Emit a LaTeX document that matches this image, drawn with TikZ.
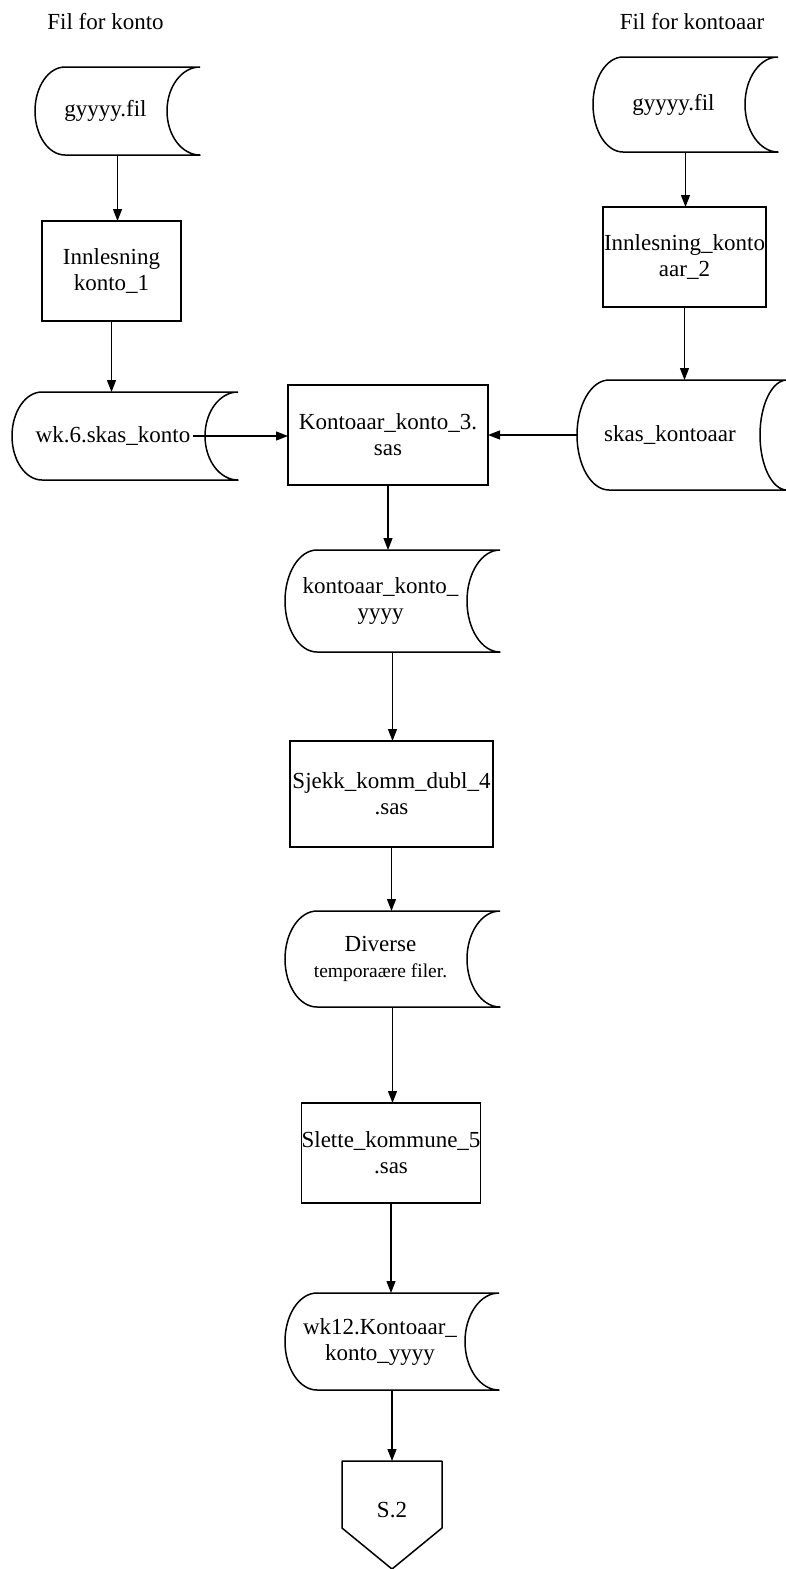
\documentclass[tikz,border=0pt]{standalone}
\usepackage{fontspec}
\setmainfont{Liberation Serif}
\usetikzlibrary{arrows.meta}
\tikzset{
  shapeline/.style={line width=1.5pt, line join=round},
  arr/.style={line width=1.2pt, -{Triangle[length=12pt,width=9pt]}},
  procbox/.style={draw, line width=1.5pt, inner sep=0pt, outer sep=0pt, align=center, font=\fontsize{23}{26}\selectfont},
  holder/.style={inner sep=0pt, outer sep=0pt},
  txt/.style={inner sep=2pt, align=center, font=\fontsize{23}{26}\selectfont},
  title/.style={font=\fontsize{23}{26}\selectfont}
}
% #1 name, #2 L, #3 T, #4 R, #5 B, #6 d, #7 d2, #8 text
\newcommand\datastore[8]{%
  \pgfmathsetmacro\dsM{(#3+#5)/2}%
  \pgfmathsetmacro\dsH{(#5-#3)/2*0.5523}%
  \pgfmathsetmacro\dsA{#2+#6}%
  \pgfmathsetmacro\dsAc{#2+#6-0.5523*#6}%
  \pgfmathsetmacro\dsR{#4-#7}%
  \pgfmathsetmacro\dsRc{#4-0.5523*#7}%
  \draw[shapeline] (#4,#3) -- (\dsA,#3)
    .. controls (\dsAc,#3) and (#2,\dsM-\dsH) .. (#2,\dsM)
    .. controls (#2,\dsM+\dsH) and (\dsAc,#5) .. (\dsA,#5)
    -- (#4,#5)
    .. controls (\dsRc,#5) and (\dsR,\dsM+\dsH) .. (\dsR,\dsM)
    .. controls (\dsR,\dsM-\dsH) and (\dsRc,#3) .. (#4,#3);
  \node[holder, minimum width={(#4-#2)*1pt}, minimum height={(#5-#3)*1pt}] (#1) at ({(#2+#4)/2},\dsM) {};
  \node[txt] (#1t) at ({(#2+#4)/2-12},\dsM) {#8};
}
\begin{document}
\begin{tikzpicture}[x=1pt,y=-1pt]
\useasboundingbox (0,0) rectangle (785,1569);
\node[title] (t1) at (105.5,22) {Fil for konto};
\node[title] (t2) at (692,22) {Fil for kontoaar};

\datastore{s1}{35}{67}{200}{155}{30}{33}{gyyyy.fil}
\datastore{s2}{593}{57}{778}{152}{30}{33}{gyyyy.fil}
\node[procbox, minimum width=139pt, minimum height=100pt] (b1) at (111.5,271) {Innlesning\\konto\_1};
\node[procbox, minimum width=163pt, minimum height=100pt] (b2) at (684.5,257) {Innlesning\_konto\\aar\_2};
\datastore{s3}{12}{392}{238}{480}{30}{33}{wk.6.skas\_konto}
\node[procbox, minimum width=200pt, minimum height=100pt] (b3) at (388,435) {Kontoaar\_konto\_3.\\sas};
\datastore{s4}{577}{380}{787}{490}{32}{27}{skas\_kontoaar}
\datastore{s5}{285}{550}{500}{652}{32}{33}{kontoaar\_konto\_\\yyyy}
\node[procbox, minimum width=203pt, minimum height=106pt] (b4) at (391.5,794) {Sjekk\_komm\_dubl\_4\\.sas};
\datastore{s6}{285}{911}{500}{1007}{32}{33}{Diverse\\{\fontsize{19.5}{26}\selectfont temporaære filer.}}
\node[procbox, minimum width=176pt, minimum height=100pt] (b5) at (391,1153) {Slette\_kommune\_5\\.sas};
\datastore{s7}{285}{1293}{499}{1390}{32}{34}{wk12.Kontoaar\_\\konto\_yyyy}

\draw[shapeline] (342,1461) -- (442,1461) -- (442,1528) -- (392,1569) -- (342,1528) -- cycle;
\node[holder, minimum width=100pt, minimum height=67pt] (p) at (392,1494.5) {};
\node[txt] (pt) at (392,1510) {S.2};

\draw[arr] (s1.south) -- (s1.south |- b1.north);
\draw[arr] (b1.south) -- (b1.south |- s3.north);
\draw[arr] (s2.south) -- (s2.south |- b2.north);
\draw[arr] (b2.south) -- (b2.south |- s4.north);
\draw[arr] (s3t.east) -- (b3.west |- s3t.east);
\draw[arr] (s4.west) -- (b3.east |- s4.west);
\draw[arr] (b3.south) -- (b3.south |- s5.north);
\draw[arr] (s5.south) -- (s5.south |- b4.north);
\draw[arr] (b4.south) -- (b4.south |- s6.north);
\draw[arr] (s6.south) -- (s6.south |- b5.north);
\draw[arr] (b5.south) -- (b5.south |- s7.north);
\draw[arr] (s7.south) -- (s7.south |- p.north);
\end{tikzpicture}
\end{document}
